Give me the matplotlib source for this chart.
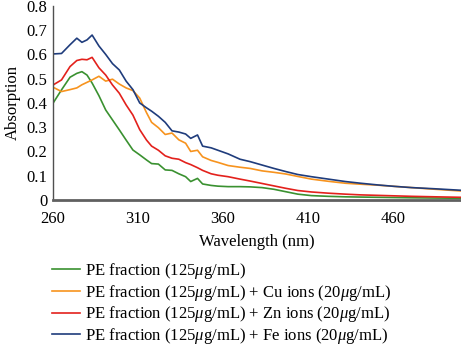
import matplotlib
matplotlib.use("Agg")
import matplotlib.pyplot as plt

plt.rcParams['font.family'] = ['Liberation Serif', 'DejaVu Serif']
plt.rcParams['mathtext.fontset'] = 'custom'
plt.rcParams['mathtext.rm'] = 'Liberation Serif'
plt.rcParams['mathtext.it'] = 'Liberation Serif:italic'

wavelength = [260, 265, 270, 274, 277, 280, 283, 287, 291, 295, 299, 303, 307, 311,
              315, 318, 322, 326, 330, 334, 338, 341, 345, 348, 353, 357, 363, 370,
              376, 383, 390, 397, 404, 412, 422, 432, 441, 451, 461, 471, 485, 500]

pe_only = [0.399, 0.454, 0.506, 0.522, 0.529, 0.515, 0.482, 0.430, 0.371, 0.330, 0.289,
           0.247, 0.206, 0.186, 0.165, 0.150, 0.148, 0.124, 0.122, 0.108, 0.096, 0.076,
           0.089, 0.066, 0.060, 0.057, 0.055, 0.055, 0.054, 0.051, 0.044, 0.034, 0.024,
           0.018, 0.015, 0.013, 0.012, 0.011, 0.010, 0.009, 0.008, 0.007]

pe_cu = [0.465, 0.447, 0.455, 0.462, 0.475, 0.485, 0.495, 0.510, 0.490, 0.498, 0.478,
         0.462, 0.451, 0.420, 0.360, 0.320, 0.298, 0.270, 0.276, 0.248, 0.234, 0.200,
         0.205, 0.178, 0.163, 0.155, 0.142, 0.135, 0.130, 0.120, 0.114, 0.107, 0.097,
         0.086, 0.077, 0.069, 0.065, 0.061, 0.056, 0.051, 0.044, 0.037]

pe_zn = [0.474, 0.495, 0.550, 0.575, 0.580, 0.578, 0.588, 0.545, 0.515, 0.474, 0.440,
         0.392, 0.350, 0.290, 0.247, 0.222, 0.205, 0.182, 0.172, 0.168, 0.154, 0.146,
         0.133, 0.122, 0.108, 0.102, 0.096, 0.086, 0.078, 0.068, 0.058, 0.048, 0.039,
         0.033, 0.028, 0.024, 0.021, 0.019, 0.017, 0.015, 0.013, 0.011]

pe_fe = [0.602, 0.604, 0.640, 0.667, 0.650, 0.660, 0.680, 0.635, 0.600, 0.562, 0.536,
         0.490, 0.455, 0.400, 0.380, 0.366, 0.345, 0.320, 0.285, 0.280, 0.272, 0.254,
         0.268, 0.222, 0.215, 0.205, 0.190, 0.168, 0.158, 0.144, 0.130, 0.117, 0.105,
         0.096, 0.086, 0.076, 0.069, 0.062, 0.056, 0.051, 0.046, 0.040]

labels = [
    r'PE fraction (125$\mu$g/mL)',
    r'PE fraction (125$\mu$g/mL) + Cu ions (20$\mu$g/mL)',
    r'PE fraction (125$\mu$g/mL) + Zn ions (20$\mu$g/mL)',
    r'PE fraction (125$\mu$g/mL) + Fe ions (20$\mu$g/mL)',
]
colors = ['#3a9130', '#f7931e', '#e3211c', '#1f3c7c']

fig = plt.figure(figsize=(4.61, 3.49), dpi=100)
ax = fig.add_axes([0.115, 0.427, 0.885, 0.556])

for ys, lab, c in zip([pe_only, pe_cu, pe_zn, pe_fe], labels, colors):
    ax.plot(wavelength, ys, color=c, lw=1.2, label=lab)

ax.set_xlim(260, 500)
ax.set_ylim(0, 0.8)
ax.set_xticks([260, 310, 360, 410, 460])
ax.set_yticks([0, 0.1, 0.2, 0.3, 0.4, 0.5, 0.6, 0.7, 0.8])
ax.set_yticklabels(['0', '0.1', '0.2', '0.3', '0.4', '0.5', '0.6', '0.7', '0.8'])
ax.tick_params(length=0, labelsize=12)
ax.tick_params(axis='x', pad=8)
ax.tick_params(axis='y', pad=4)
for s in ['top', 'right']:
    ax.spines[s].set_visible(False)
ax.spines['left'].set_color('#505050')
ax.spines['left'].set_linewidth(1.0)
ax.spines['bottom'].set_color('#606060')
ax.spines['bottom'].set_linewidth(2.0)
ax.set_xlabel('Wavelength (nm)', fontsize=12, labelpad=5)
ax.set_ylabel('Absorption', fontsize=12, labelpad=4)

fig.legend(loc='upper left', bbox_to_anchor=(0.113, 0.252), frameon=False,
           fontsize=12, handlelength=1.7, handletextpad=0.3, labelspacing=0.1,
           borderaxespad=0, borderpad=0)

fig.savefig('out.png', dpi=100)
